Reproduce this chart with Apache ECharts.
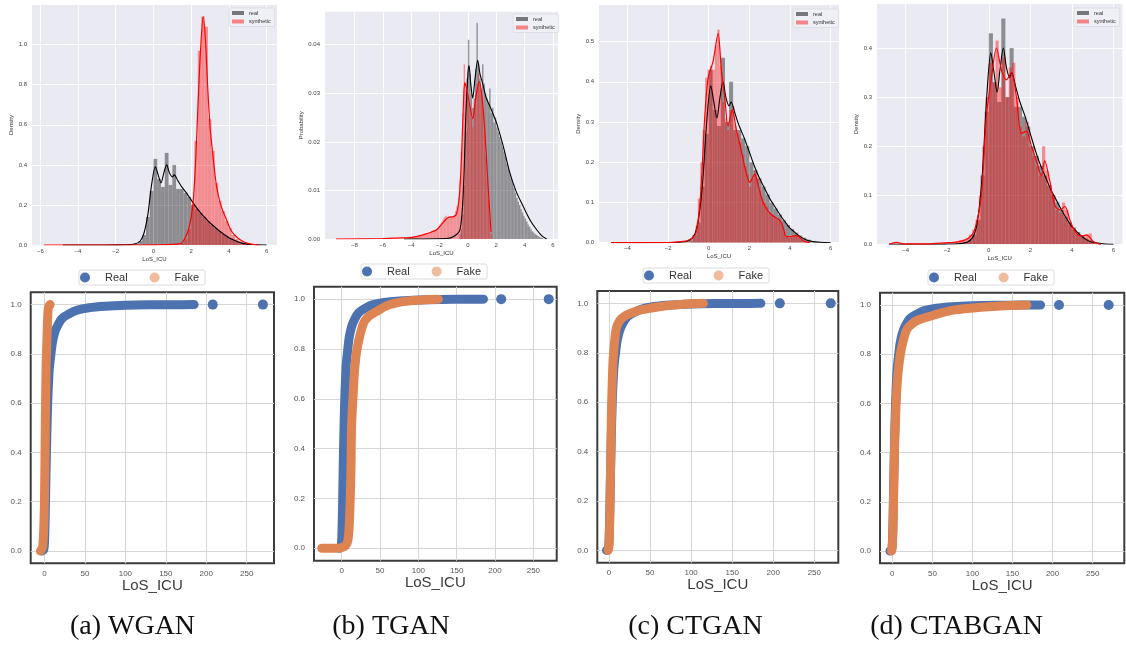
<!DOCTYPE html>
<html><head><meta charset="utf-8">
<script src="https://cdn.jsdelivr.net/npm/echarts@6/dist/echarts.min.js"></script>
<style>html,body{margin:0;padding:0;background:#fff}#c{width:1126px;height:646px}</style>
</head><body><div id="c"></div>
<script>
// ---------- tick labels ----------
const xTicksA = [-6,-4,-2,0,2,4,6];
const xTicksB = [-8,-6,-4,-2,0,2,4,6];
const xTicksCD = [-4,-2,0,2,4,6];
const yTicksA = [0,0.2,0.4,0.6,0.8,1.0];
const yTicksB = [0,0.01,0.02,0.03,0.04];
const yTicksC = [0,0.1,0.2,0.3,0.4,0.5];
const yTicksD = [0,0.1,0.2,0.3,0.4];
const xTicksBottom = [0,50,100,150,200,250];
const yTicksBottom = [0,0.2,0.4,0.6,0.8,1.0];
const captions = ['(a) WGAN','(b) TGAN','(c) CTGAN','(d) CTABGAN'];

// ---------- real histogram (density, bin width 0.2) ----------
const realBinW = 0.2;
const realDensX = [-1.1,-0.9,-0.7,-0.5,-0.3,-0.1,0.1,0.3,0.5,0.7,0.9,1.1,1.3,1.5,1.7,1.9,2.1,2.3,2.5,2.7,2.9,3.1,3.3,3.5,3.7,3.9,4.1,4.3,4.5,4.7,4.9,5.1,5.3,5.5];
const realDensY = [0.004,0.008,0.02,0.05,0.14,0.27,0.43,0.33,0.29,0.46,0.30,0.40,0.28,0.28,0.26,0.24,0.20,0.18,0.16,0.14,0.12,0.10,0.085,0.07,0.056,0.044,0.034,0.025,0.018,0.012,0.008,0.004,0.002,0.001];
const realKdeX = [-4.8,-3,-2,-1.5,-1.0,-0.7,-0.5,-0.3,-0.1,0.1,0.25,0.4,0.55,0.7,0.85,1.0,1.1,1.3,1.5,1.75,2.0,2.25,2.5,2.75,3.0,3.25,3.5,3.75,4.0,4.25,4.5,4.75,5.0,5.5,6.0];
const realKdeY = [0,0,0.0005,0.001,0.005,0.02,0.06,0.15,0.30,0.39,0.35,0.31,0.36,0.40,0.36,0.34,0.35,0.32,0.29,0.26,0.225,0.19,0.16,0.135,0.11,0.09,0.07,0.052,0.036,0.025,0.015,0.008,0.004,0.001,0];

// ---------- WGAN synthetic ----------
const synABinW = 0.18;
const synAX = [1.54,1.72,1.90,2.08,2.26,2.44,2.62,2.80,2.98,3.16,3.34,3.52,3.70,3.88,4.06,4.24,4.42,4.60,4.78,4.96,5.14];
const synAY = [0.01,0.03,0.08,0.20,0.52,0.97,1.14,1.09,0.63,0.47,0.31,0.22,0.17,0.12,0.085,0.05,0.03,0.018,0.01,0.006,0.003];
const synAKdeX = [-5.8,-3,-1,0,1.0,1.5,1.7,1.85,2.0,2.11,2.25,2.37,2.5,2.64,2.75,2.87,3.0,3.15,3.35,3.6,3.88,4.1,4.41,4.8,5.2,5.6];
const synAKdeY = [0,0,0,0.001,0.003,0.01,0.04,0.075,0.14,0.22,0.45,0.72,0.98,1.14,1.03,0.8,0.59,0.45,0.29,0.19,0.125,0.075,0.04,0.015,0.004,0];

// ---------- TGAN (probability, bin width 0.1) ----------
const probBinW = 0.1;
const realProbX = [-0.55,-0.45,-0.35,-0.25,-0.15,-0.05,0.05,0.15,0.25,0.35,0.45,0.55,0.65,0.75,0.85,0.95,1.05,1.15,1.25,1.35,1.45,1.55,1.65,1.75,1.85,1.95,2.05,2.15,2.25,2.35,2.45,2.55,2.65,2.75,2.85,2.95,3.05,3.15,3.25,3.35,3.45,3.55,3.65,3.75,3.85,3.95,4.05,4.15,4.25,4.35,4.45,4.55,4.65,4.75,4.85,4.95,5.05,5.15,5.25];
const realProbY = [0.001,0.002,0.005,0.011,0.022,0.033,0.041,0.034,0.030,0.027,0.029,0.035,0.0445,0.036,0.033,0.031,0.036,0.032,0.030,0.029,0.028,0.031,0.026,0.027,0.024,0.025,0.023,0.022,0.021,0.020,0.019,0.018,0.017,0.0155,0.0145,0.0135,0.0125,0.0115,0.0105,0.0095,0.0085,0.0077,0.007,0.0062,0.0055,0.0048,0.0042,0.0036,0.003,0.0025,0.002,0.0016,0.0013,0.001,0.0008,0.0006,0.0004,0.0003,0.0002];
const realProbKdeX = [-4.5,-1.5,-1.0,-0.55,-0.32,-0.15,0.0,0.08,0.2,0.34,0.5,0.69,0.85,1.04,1.3,1.6,2.03,2.5,2.97,3.4,3.9,4.4,4.85,5.2,5.55];
const realProbKdeY = [0,0.0001,0.0005,0.002,0.010,0.025,0.034,0.0357,0.032,0.029,0.033,0.0368,0.034,0.032,0.029,0.027,0.0238,0.019,0.0135,0.0098,0.0067,0.0038,0.0019,0.0007,0];
const synBX = [-4.05,-3.95,-3.85,-3.75,-3.65,-3.55,-3.45,-3.35,-3.25,-3.15,-3.05,-2.95,-2.85,-2.75,-2.65,-2.55,-2.45,-2.35,-2.25,-2.15,-2.05,-1.95,-1.85,-1.75,-1.65,-1.55,-1.45,-1.35,-1.25,-1.15,-1.05,-0.95,-0.85,-0.75,-0.65,-0.55,-0.45,-0.35,-0.25,-0.15,-0.05,0.05,0.15,0.25,0.35,0.45,0.55,0.65,0.75,0.85,0.95,1.05,1.15,1.25,1.35,1.45,1.55,1.65];
const synBY = [0.0003,0.0004,0.0004,0.0005,0.0005,0.0006,0.0007,0.0008,0.0008,0.0009,0.001,0.0011,0.0012,0.0013,0.0014,0.0015,0.0017,0.0018,0.0019,0.0022,0.0026,0.003,0.0034,0.004,0.0045,0.0048,0.0045,0.0044,0.0046,0.0045,0.0047,0.005,0.0058,0.0068,0.0085,0.012,0.018,0.026,0.036,0.031,0.030,0.028,0.027,0.025,0.023,0.027,0.030,0.032,0.034,0.032,0.030,0.027,0.022,0.017,0.012,0.008,0.004,0.001];
const synBKdeX = [-9.3,-6,-5,-4.1,-3.5,-3,-2.6,-2.2,-1.8,-1.5,-1.3,-1.0,-0.8,-0.6,-0.45,-0.3,-0.22,-0.1,0.1,0.34,0.55,0.81,1.0,1.2,1.4,1.55,1.63];
const synBKdeY = [0,0.0001,0.0002,0.0003,0.0006,0.001,0.0014,0.0019,0.0032,0.0042,0.0045,0.0046,0.0052,0.009,0.017,0.029,0.0322,0.031,0.028,0.0248,0.029,0.0324,0.029,0.022,0.012,0.005,0.0015];

// ---------- CTGAN synthetic ----------
const synCBinW = 0.12;
const synCX = [-0.84,-0.72,-0.60,-0.48,-0.36,-0.24,-0.12,0.00,0.12,0.24,0.36,0.48,0.60,0.72,0.84,0.96,1.08,1.20,1.32,1.44,1.56,1.68,1.80,1.92,2.04,2.16,2.28,2.40,2.52,2.64,2.76,2.88,3.00,3.12,3.24,3.36,3.48,3.60,3.72,3.84,3.96,4.08,4.20,4.32,4.44,4.56,4.68,4.80];
const synCY = [0.005,0.015,0.04,0.11,0.20,0.28,0.41,0.43,0.44,0.43,0.49,0.53,0.44,0.35,0.31,0.28,0.33,0.34,0.29,0.27,0.25,0.22,0.19,0.17,0.14,0.16,0.18,0.16,0.13,0.11,0.10,0.09,0.075,0.07,0.065,0.06,0.058,0.05,0.03,0.015,0.012,0.016,0.02,0.018,0.012,0.007,0.004,0.002];
const synCKdeX = [-4.8,-2,-1.5,-1.0,-0.64,-0.4,-0.2,-0.03,0.21,0.46,0.62,0.79,0.95,1.16,1.36,1.55,1.77,2.02,2.26,2.45,2.67,2.9,3.08,3.3,3.49,3.65,3.82,4.05,4.3,4.5,4.64,4.97];
const synCKdeY = [0,0.0005,0.002,0.006,0.023,0.12,0.31,0.41,0.45,0.52,0.43,0.36,0.29,0.33,0.28,0.24,0.19,0.15,0.17,0.14,0.10,0.08,0.07,0.062,0.056,0.04,0.015,0.015,0.018,0.012,0.005,0];

// ---------- CTABGAN synthetic ----------
const synDBinW = 0.16;
const synDX = [-1.52,-1.36,-1.20,-1.04,-0.88,-0.72,-0.56,-0.40,-0.24,-0.08,0.08,0.24,0.40,0.56,0.72,0.88,1.04,1.20,1.36,1.52,1.68,1.84,2.00,2.16,2.32,2.48,2.64,2.80,2.96,3.12,3.28,3.44,3.60,3.76,3.92,4.08,4.24,4.40,4.56,4.72,4.88,5.04];
const synDY = [0.006,0.008,0.010,0.013,0.02,0.03,0.05,0.10,0.20,0.30,0.37,0.33,0.415,0.32,0.38,0.30,0.36,0.37,0.30,0.24,0.22,0.25,0.20,0.18,0.16,0.14,0.20,0.15,0.12,0.10,0.07,0.065,0.085,0.07,0.045,0.03,0.02,0.018,0.017,0.02,0.022,0.006];
const synDKdeX = [-4.8,-4.45,-4.1,-3,-2.1,-1.5,-1.0,-0.68,-0.36,-0.12,0.13,0.37,0.61,0.85,1.09,1.33,1.57,1.81,2.05,2.29,2.53,2.69,2.93,3.17,3.42,3.66,3.9,4.1,4.3,4.5,4.7,4.86,5.0,5.18,5.4];
const synDKdeY = [0,0.004,0.001,0.001,0.003,0.005,0.012,0.03,0.10,0.26,0.34,0.40,0.355,0.335,0.35,0.30,0.226,0.23,0.20,0.17,0.14,0.17,0.13,0.08,0.07,0.077,0.05,0.03,0.019,0.017,0.019,0.014,0.007,0.002,0];

// ---------- ECDF (bottom row) ----------
const realEcdfX = [-3,-1,0,1,2,3,4,5,6,8,10,13,17,22,30,40,55,75,100,130,160,185];
const realEcdfY = [0,0.005,0.03,0.15,0.33,0.48,0.6,0.68,0.74,0.8,0.85,0.89,0.92,0.945,0.962,0.977,0.987,0.993,0.997,0.999,0.9995,1.0];
const realOutX = [208,270];
const realOutY = [1.0,1.0];
const fakeAX = [-5,-2,0,1,2,3,4,5,7];
const fakeAY = [0,0.02,0.2,0.5,0.75,0.85,0.95,0.99,1.0];
const fakeBX = [-26,-15,-5,0,5,8,10,12,13,15,17,20,28,35,45,60,80,100,126];
const fakeBY = [0,0,0,0.003,0.01,0.03,0.1,0.3,0.5,0.62,0.72,0.8,0.9,0.93,0.95,0.975,0.99,0.996,1.0];
const fakeCX = [-1,0,1,2,3,4,5,7,9,13,18,23,35,50,70,90,115];
const fakeCY = [0,0.02,0.15,0.35,0.55,0.68,0.77,0.85,0.9,0.93,0.945,0.955,0.97,0.98,0.99,0.996,1.0];
const fakeDX = [-1,0,1,2,3,5,7,10,14,18,25,33,43,60,78,107,135,168];
const fakeDY = [0,0.02,0.12,0.3,0.45,0.62,0.72,0.8,0.86,0.9,0.925,0.94,0.95,0.967,0.98,0.99,0.996,1.0];

// ---------- build ----------
const zip = (xs, ys) => xs.map((x, i) => [x, ys[i]]);
const minus = s => String(s).replace('-', '\u2212');
const FONT = 'Liberation Sans, Arial, sans-serif';

const topPanels = [
  {l:32, t:5, w:245, h:240, x0:-6.44, x1:6.55, y1:1.198, xt:xTicksA, yt:yTicksA, dec:1, yName:'Density', yGap:15, lg:[229,8],
   real:[realDensX, realDensY, realBinW], rk:[realKdeX, realKdeY], syn:[synAX, synAY, synABinW], sk:[synAKdeX, synAKdeY]},
  {l:325, t:11.7, w:233, h:227.3, x0:-10.07, x1:6.35, y1:0.0468, xt:xTicksB, yt:yTicksB, dec:2, yName:'Probability', yGap:17, lg:[513,14],
   real:[realProbX, realProbY, probBinW], rk:[realProbKdeX, realProbKdeY], syn:[synBX, synBY, probBinW], sk:[synBKdeX, synBKdeY]},
  {l:599, t:5, w:240, h:237.7, x0:-5.40, x1:6.41, y1:0.591, xt:xTicksCD, yt:yTicksC, dec:1, yName:'Density', yGap:15, lg:[793,9],
   real:[realDensX, realDensY, realBinW], rk:[realKdeX, realKdeY], syn:[synCX, synCY, synCBinW], sk:[synCKdeX, synCKdeY]},
  {l:877, t:4, w:245.4, h:240.3, x0:-5.38, x1:6.43, y1:0.4896, xt:xTicksCD, yt:yTicksD, dec:1, yName:'Density', yGap:15, lg:[1074,8],
   real:[realDensX, realDensY, realBinW], rk:[realKdeX, realKdeY], syn:[synDX, synDY, synDBinW], sk:[synDKdeX, synDKdeY]}
];
const bottomPanels = [
  {l:30.7, t:292.3, w:243.3, h:271, x0:-17, x1:283.7, fake:[fakeAX, fakeAY], lg:[79,270]},
  {l:314, t:286.7, w:242.7, h:274, x0:-36.1, x1:280.4, fake:[fakeBX, fakeBY], lg:[361,264]},
  {l:597.3, t:291, w:241, h:271.7, x0:-14.2, x1:279.2, fake:[fakeCX, fakeCY], lg:[643,268]},
  {l:880, t:292.7, w:244.3, h:270.6, x0:-15.4, x1:289.5, fake:[fakeDX, fakeDY], lg:[928,270]}
];

const grid = [], xAxis = [], yAxis = [], series = [], legend = [], graphic = [];

function histSeries(name, gi, xs, ys, w, color) {
  return {
    type:'custom', name, xAxisIndex:gi, yAxisIndex:gi, clip:true,
    data: zip(xs, ys), encode:{x:0, y:1}, itemStyle:{color}, z:2,
    renderItem: (params, api) => {
      const x = api.value(0), h = api.value(1);
      const p0 = api.coord([x - w/2, h]);
      const p1 = api.coord([x + w/2, 0]);
      return {type:'rect', shape:{x:p0[0], y:p0[1], width:p1[0]-p0[0], height:p1[1]-p0[1]},
              style:{fill:color, stroke:'rgba(255,255,255,0.18)', lineWidth:0.3}};
    }
  };
}

topPanels.forEach((p, i) => {
  grid.push({left:p.l, top:p.t, width:p.w, height:p.h, show:true, backgroundColor:'#EAEAF2', borderWidth:0});
  xAxis.push({gridIndex:i, type:'value', min:p.x0, max:p.x1,
    axisLine:{show:false}, axisTick:{show:false, customValues:p.xt},
    axisLabel:{customValues:p.xt, formatter:v => minus(v), fontSize:6, color:'#444', margin:3, fontFamily:FONT},
    splitLine:{show:true, lineStyle:{color:'#ffffff', width:0.9}},
    name:'LoS_ICU', nameLocation:'middle', nameGap:11, nameTextStyle:{fontSize:6, color:'#333', fontFamily:FONT}});
  yAxis.push({gridIndex:i, type:'value', min:0, max:p.y1,
    axisLine:{show:false}, axisTick:{show:false, customValues:p.yt},
    axisLabel:{customValues:p.yt, formatter:v => v.toFixed(p.dec), fontSize:6, color:'#444', margin:5, fontFamily:FONT},
    splitLine:{show:true, lineStyle:{color:'#ffffff', width:0.9}},
    name:p.yName, nameLocation:'middle', nameGap:p.yGap, nameTextStyle:{fontSize:6, color:'#333', fontFamily:FONT}});
  series.push(histSeries('real', i, p.real[0], p.real[1], p.real[2], 'rgba(0,0,0,0.4)'));
  series.push(histSeries('synthetic', i, p.syn[0], p.syn[1], p.syn[2], 'rgba(255,0,0,0.4)'));
  series.push({type:'line', name:'real kde', xAxisIndex:i, yAxisIndex:i, data:zip(p.rk[0], p.rk[1]),
    showSymbol:false, symbol:'none', smooth:0.3, lineStyle:{color:'#000', width:1.1}, z:4});
  series.push({type:'line', name:'synthetic kde', xAxisIndex:i, yAxisIndex:i, data:zip(p.sk[0], p.sk[1]),
    showSymbol:false, symbol:'none', smooth:0.3, lineStyle:{color:'#ff0000', width:1.2}, z:5});
  legend.push({orient:'vertical', left:p.lg[0], top:p.lg[1], selectedMode:false, icon:'rect',
    itemWidth:12, itemHeight:4, itemGap:2.5,
    data:[{name:'real', itemStyle:{color:'rgba(0,0,0,0.5)'}}, {name:'synthetic', itemStyle:{color:'rgba(255,0,0,0.45)'}}],
    textStyle:{fontSize:5.5, color:'#333', fontFamily:FONT},
    backgroundColor:'rgba(240,240,246,0.9)', borderColor:'#d4d4dc', borderWidth:0.6, borderRadius:1.5, padding:[2,4,2,3]});
});

bottomPanels.forEach((p, k) => {
  const i = k + 4;
  grid.push({left:p.l, top:p.t, width:p.w, height:p.h, show:true, backgroundColor:'#fff', borderColor:'#3c3c3c', borderWidth:2});
  xAxis.push({gridIndex:i, type:'value', min:p.x0, max:p.x1,
    axisLine:{show:false}, axisTick:{show:false, customValues:xTicksBottom},
    axisLabel:{customValues:xTicksBottom, fontSize:8, color:'#555', margin:6, fontFamily:FONT},
    splitLine:{show:true, lineStyle:{color:'#d6d6d6', width:1}},
    name:'LoS_ICU', nameLocation:'middle', nameGap:10, nameTextStyle:{fontSize:15, color:'#3a3a3a', fontFamily:FONT}});
  yAxis.push({gridIndex:i, type:'value', min:-0.05, max:1.05,
    axisLine:{show:false}, axisTick:{show:false, customValues:yTicksBottom},
    axisLabel:{customValues:yTicksBottom, formatter:v => v.toFixed(1), fontSize:8, color:'#555', margin:9, fontFamily:FONT},
    splitLine:{show:true, lineStyle:{color:'#d6d6d6', width:1}}});
  series.push({type:'line', name:'Real', xAxisIndex:i, yAxisIndex:i, data:zip(realEcdfX, realEcdfY),
    showSymbol:false, symbol:'none', smooth:0.3, lineStyle:{color:'#4C72B0', width:9, cap:'round', join:'round'},
    itemStyle:{color:'#4C72B0'}, z:2});
  series.push({type:'scatter', name:'Real', xAxisIndex:i, yAxisIndex:i, data:zip(realOutX, realOutY),
    symbolSize:10, itemStyle:{color:'#4C72B0', opacity:1}, z:2});
  series.push({type:'line', name:'Fake', xAxisIndex:i, yAxisIndex:i, data:zip(p.fake[0], p.fake[1]),
    showSymbol:false, symbol:'none', smooth:0.3, lineStyle:{color:'#DD8452', width:9, cap:'round', join:'round'},
    itemStyle:{color:'#DD8452'}, z:3});
  legend.push({left:p.lg[0], top:p.lg[1], selectedMode:false, icon:'circle', itemWidth:30, itemHeight:10, itemGap:22,
    data:[{name:'Real', itemStyle:{color:'#4C72B0'}}, {name:'Fake', itemStyle:{color:'#EFBC9E'}}],
    textStyle:{fontSize:11, color:'#333', fontFamily:FONT},
    backgroundColor:'#fff', borderColor:'#dcdcdc', borderWidth:1, borderRadius:2, padding:[2,6,2,1]});
});

const capX = [132.5, 391, 695.5, 956.5];
captions.forEach((c, i) => {
  graphic.push({type:'text', x:capX[i], y:627, silent:true,
    style:{text:c, fontFamily:'Liberation Serif, DejaVu Serif, serif', fontSize:28, fill:'#111',
           align:'center', verticalAlign:'middle', textAlign:'center', textVerticalAlign:'middle'}});
});

const chart = echarts.init(document.getElementById('c'), null, {renderer:'canvas'});
chart.setOption({animation:false, backgroundColor:'#fff', textStyle:{fontFamily:FONT},
  grid, xAxis, yAxis, series, legend, graphic});
</script></body></html>
